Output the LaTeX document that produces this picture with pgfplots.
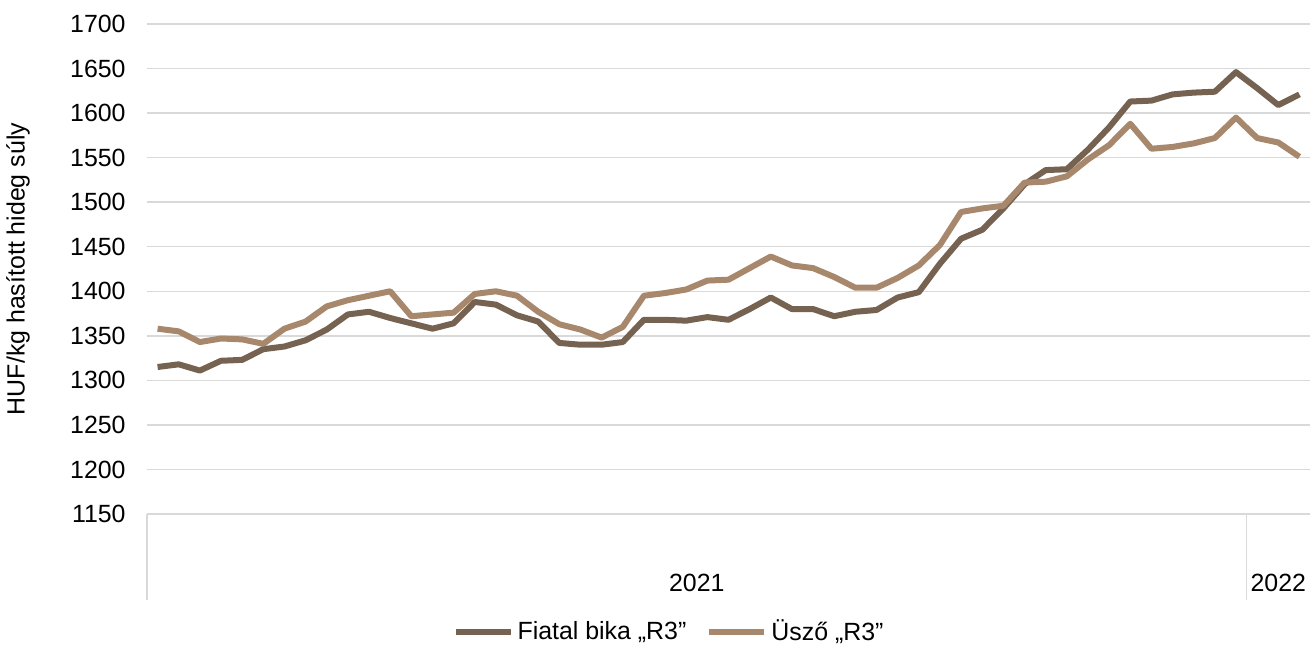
\documentclass[border=0pt]{standalone}
\usepackage{fontspec}
\setmainfont{Liberation Sans}
\usepackage{pgfplots}
\usepackage{pgfplotstable}
\pgfplotsset{compat=1.18}
\definecolor{bika}{RGB}{118,98,80}
\definecolor{uszo}{RGB}{168,136,108}
\definecolor{gridc}{RGB}{217,217,217}
\newcommand\chartfont{\fontsize{12.5}{15}\selectfont}

% weekly prices, 2021 w1 .. 2022 w3
\pgfplotstableread{
i bika uszo
0 1315 1358
1 1318 1355
2 1311 1343
3 1322 1347
4 1323 1346
5 1335 1341
6 1338 1358
7 1345 1366
8 1357 1383
9 1374 1390
10 1377 1395
11 1370 1400
12 1364 1372
13 1358 1374
14 1364 1376
15 1388 1397
16 1385 1400
17 1373 1395
18 1366 1377
19 1342 1363
20 1340 1357
21 1340 1348
22 1343 1360
23 1368 1395
24 1368 1398
25 1367 1402
26 1371 1412
27 1368 1413
28 1380 1426
29 1393 1439
30 1380 1429
31 1380 1426
32 1372 1416
33 1377 1404
34 1379 1404
35 1393 1415
36 1399 1429
37 1431 1452
38 1459 1489
39 1469 1493
40 1493 1496
41 1520 1522
42 1536 1523
43 1537 1529
44 1559 1548
45 1584 1564
46 1613 1588
47 1614 1560
48 1621 1562
49 1623 1566
50 1624 1572
51 1646 1595
52 1628 1572
53 1609 1567
54 1621 1551
}\prices

\begin{document}
\begin{tikzpicture}
\path[use as bounding box] (-73.5bp,-66bp) rectangle (584.5bp,257bp);
\begin{axis}[
  at={(0,0)}, anchor=south west,
  scale only axis, width=581.5bp, height=245bp,
  xmin=-0.5, xmax=54.5, ymin=1150, ymax=1700,
  xtick=\empty,
  ytick={1150,1200,...,1700},
  ymajorgrids,
  major grid style={gridc, line width=0.75bp},
  axis line style={draw=none},
  major tick length=0pt,
  tick label style={font=\chartfont},
  yticklabel style={anchor=east, inner sep=0pt, xshift=-10.5bp},
  /pgf/number format/assume math mode=true,
  /pgf/number format/1000 sep={},
  clip=false,
  legend columns=2,
  legend style={at={(0.4497,-0.2408)}, anchor=center, draw=none, fill=none,
    font=\chartfont,
    /tikz/every even column/.append style={column sep=8bp}},
  legend image code/.code={\draw[#1, line width=3bp] (0bp,0bp) -- (27.5bp,0bp);},
]
\addplot[bika, line width=3bp, line join=round] table[x=i, y=bika] {\prices};
\addlegendentry{Fiatal bika „R3”}
\addplot[uszo, line width=3bp, line join=round] table[x=i, y=uszo] {\prices};
\addlegendentry{Üsző „R3”}

\draw[gridc, line width=0.75bp] (axis cs:-0.5,1150) -- ++(0bp,-43bp);
\draw[gridc, line width=0.75bp] (axis cs:51.5,1150) -- ++(0bp,-43bp);
\node[font=\chartfont, yshift=-34.5bp] at (axis cs:25.5,1150) {2021};
\node[font=\chartfont, yshift=-34.5bp] at (axis cs:53,1150) {2022};
\end{axis}
\node[rotate=90, font=\chartfont] at (-64.5bp,122.5bp) {HUF/kg hasított hideg súly};
\end{tikzpicture}
\end{document}
